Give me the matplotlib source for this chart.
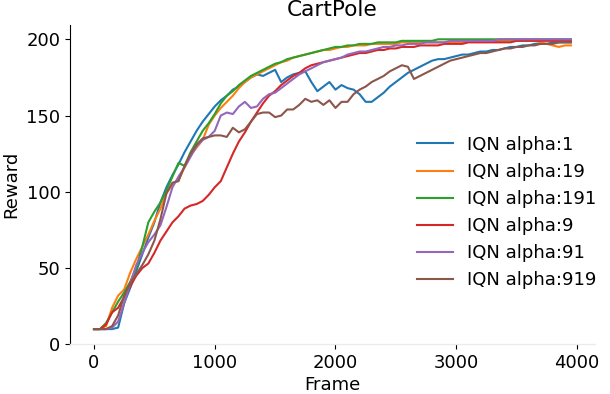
import matplotlib
matplotlib.use('Agg')
import matplotlib.pyplot as plt
from matplotlib.ticker import MultipleLocator
import numpy as np

# frames sampled every 50 steps
frames = np.arange(0, 4000, 50)

labels = ['IQN alpha:1', 'IQN alpha:19', 'IQN alpha:191',
          'IQN alpha:9', 'IQN alpha:91', 'IQN alpha:919']

alpha_1 = [10, 10, 10, 10, 11, 27, 37, 48, 59, 70,
           80, 93, 103, 111, 118, 126, 133, 140, 146, 151,
           156, 160, 163, 167, 169, 172, 175, 177, 176, 178,
           180, 172, 175, 177, 178, 179, 172, 166, 169, 172,
           167, 170, 168, 167, 164, 159, 159, 162, 165, 169,
           172, 175, 178, 180, 182, 184, 186, 187, 187, 188,
           189, 190, 190, 191, 192, 192, 193, 193, 194, 195,
           195, 196, 196, 197, 197, 197, 198, 198, 198, 198]

alpha_19 = [10, 10, 12, 24, 32, 36, 47, 56, 64, 72,
            81, 89, 99, 105, 108, 116, 124, 129, 134, 144,
            150, 155, 159, 163, 168, 172, 175, 177, 179, 181,
            183, 185, 186, 188, 189, 190, 191, 192, 193, 193,
            194, 195, 195, 196, 196, 196, 197, 197, 197, 197,
            197, 198, 198, 198, 198, 198, 198, 198, 198, 198,
            198, 198, 199, 199, 199, 199, 199, 199, 199, 199,
            199, 199, 199, 199, 198, 197, 196, 195, 196, 196]

alpha_191 = [10, 10, 14, 21, 28, 34, 41, 50, 64, 80,
             87, 93, 101, 110, 119, 117, 126, 133, 140, 145,
             151, 158, 163, 166, 170, 173, 176, 178, 180, 182,
             184, 185, 187, 188, 189, 190, 191, 192, 193, 194,
             195, 195, 196, 196, 197, 197, 197, 198, 198, 198,
             198, 199, 199, 199, 199, 199, 199, 200, 200, 200,
             200, 200, 200, 200, 200, 200, 200, 200, 200, 200,
             200, 200, 200, 200, 200, 200, 200, 200, 200, 200]

alpha_9 = [10, 10, 13, 21, 24, 31, 38, 45, 50, 53,
           60, 68, 74, 80, 84, 89, 91, 92, 94, 98,
           103, 107, 116, 125, 133, 139, 146, 152, 158, 163,
           166, 170, 173, 176, 178, 181, 183, 184, 185, 186,
           187, 188, 189, 190, 191, 191, 192, 193, 193, 194,
           194, 195, 195, 195, 196, 196, 196, 196, 197, 197,
           197, 197, 198, 198, 198, 198, 198, 198, 198, 198,
           199, 199, 199, 199, 199, 199, 199, 199, 199, 199]

alpha_91 = [10, 10, 10, 11, 15, 27, 40, 52, 60, 67,
            72, 78, 90, 103, 110, 116, 123, 130, 134, 136,
            140, 150, 152, 151, 156, 159, 155, 156, 161, 164,
            165, 168, 171, 174, 177, 179, 181, 183, 185, 186,
            187, 188, 190, 191, 192, 192, 193, 194, 195, 195,
            196, 196, 197, 197, 197, 198, 198, 198, 198, 199,
            199, 199, 199, 199, 199, 199, 199, 200, 200, 200,
            200, 200, 200, 200, 200, 200, 200, 200, 200, 200]

alpha_919 = [10, 10, 10, 12, 19, 32, 40, 46, 52, 59,
             68, 82, 99, 106, 107, 117, 125, 131, 135, 136,
             137, 137, 136, 142, 139, 141, 146, 151, 152, 152,
             149, 150, 154, 154, 157, 161, 159, 160, 157, 160,
             155, 159, 159, 164, 167, 169, 172, 174, 176, 179,
             181, 183, 182, 174, 176, 178, 180, 182, 184, 186,
             187, 188, 189, 190, 191, 191, 192, 193, 194, 194,
             195, 195, 196, 196, 197, 197, 197, 198, 198, 198]

series = [alpha_1, alpha_19, alpha_191, alpha_9, alpha_91, alpha_919]

plt.rcParams['font.size'] = 13

fig = plt.figure(figsize=(6.1, 3.94), dpi=100)
ax = fig.add_axes([0.115, 0.126, 0.86, 0.811])

for vals, lab in zip(series, labels):
    ax.plot(frames, vals, lw=1.5, label=lab)

ax.set_ylim(0, None)
ax.xaxis.set_major_locator(MultipleLocator(1000))
ax.set_title('CartPole')
ax.set_xlabel('Frame', labelpad=3)
ax.set_ylabel('Reward')

ax.spines['top'].set_visible(False)
ax.spines['right'].set_visible(False)
ax.spines['bottom'].set_color('#ebebeb')
ax.spines['bottom'].set_linewidth(1.0)

ax.legend(loc='center left', bbox_to_anchor=(0.63, 0.413), frameon=False)

fig.savefig('out.png', dpi=100)
